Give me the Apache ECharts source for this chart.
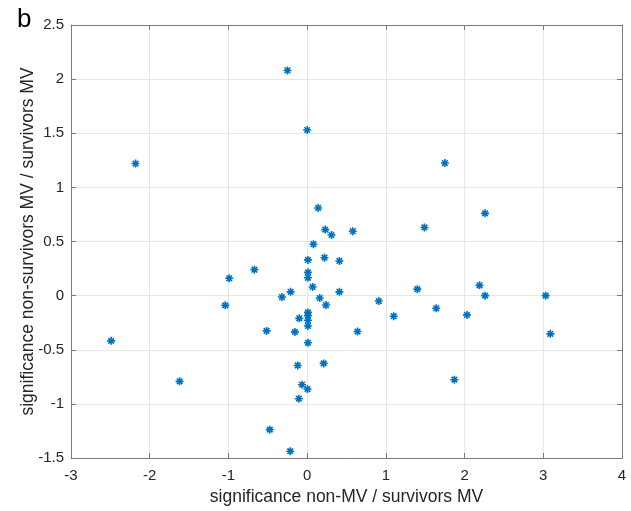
<!DOCTYPE html>
<html>
<head>
<meta charset="utf-8">
<style>
  html, body { margin: 0; padding: 0; background: #fff; }
  #main { width: 631px; height: 511px; }
</style>
<script src="https://cdn.jsdelivr.net/npm/echarts@6/dist/echarts.min.js"></script>
</head>
<body>
<div id="main"></div>
<script>
// significance non-MV / survivors MV
var xVals = [-0.25, 0.00, -2.18, 1.75, 0.14, 2.26, 1.49, 0.23, 0.58, 0.31,
             0.08, 0.22, 0.01, 0.41, -0.67, 0.01, 0.01, -0.99, 2.19, 0.07,
             1.40, -0.21, 0.41, 2.26, 3.03, -0.32, 0.16, 0.91, 0.24, -1.04,
             1.64, 0.01, 2.03, 0.01, 1.10, -0.10, 0.01, 0.01, -0.515, -0.155,
             0.64, 3.09, -2.49, 0.01, 0.21, -0.12, 1.87, -1.62, -0.065, 0.005,
             -0.105, -0.475, -0.215];
// significance non-survivors MV / survivors MV
var yVals = [2.08, 1.53, 1.22, 1.225, 0.81, 0.76, 0.63, 0.61, 0.595, 0.56,
             0.475, 0.35, 0.33, 0.32, 0.24, 0.215, 0.165, 0.16, 0.095, 0.08,
             0.06, 0.035, 0.035, 0.0, 0.0, -0.013, -0.022, -0.05, -0.087, -0.09,
             -0.117, -0.155, -0.178, -0.185, -0.19, -0.21, -0.227, -0.28, -0.326, -0.335,
             -0.332, -0.353, -0.418, -0.436, -0.626, -0.645, -0.777, -0.792, -0.823, -0.863,
             -0.952, -1.238, -1.437];

var pts = [];
for (var i = 0; i < xVals.length; i++) {
	pts.push([xVals[i], yVals[i]]);
}

var font = 'Liberation Sans, Arial, Helvetica, sans-serif';
var axisCol = '#7a7a7a';
var chart = echarts.init(document.getElementById('main'));
var option = {
	animation: false,
	textStyle: { fontFamily: font },
	title: {
		text: 'b',
		left: 12, top: 2,
		textStyle: { fontSize: 26, fontWeight: 'normal', color: '#000', fontFamily: font }
	},
	grid: { left: 71, right: 9, top: 25, bottom: 52 },
	xAxis: [{
		type: 'value', min: -3, max: 4, interval: 1,
		name: 'significance non-MV / survivors MV',
		nameLocation: 'middle', nameGap: 30, nameMoveOverlap: false,
		nameTextStyle: { fontSize: 17.5, color: '#262626' },
		axisLine: { show: true, onZero: false, lineStyle: { color: axisCol, width: 1 } },
		axisTick: { show: true, inside: true, length: 5, lineStyle: { color: axisCol } },
		axisLabel: { fontSize: 15, color: '#262626', margin: 10 },
		splitLine: { show: true, lineStyle: { color: '#e6e6e6', width: 1 } }
	}, {
		type: 'value', min: -3, max: 4, interval: 1, position: 'top',
		axisLine: { show: true, onZero: false, lineStyle: { color: axisCol, width: 1 } },
		axisTick: { show: true, inside: true, length: 5, lineStyle: { color: axisCol } },
		axisLabel: { show: false },
		splitLine: { show: false }
	}],
	yAxis: [{
		type: 'value', min: -1.5, max: 2.5, interval: 0.5,
		name: 'significance non-survivors MV / survivors MV',
		nameLocation: 'middle', nameGap: 34, nameMoveOverlap: false,
		nameTextStyle: { fontSize: 17.5, color: '#262626' },
		axisLine: { show: true, onZero: false, lineStyle: { color: axisCol, width: 1 } },
		axisTick: { show: true, inside: true, length: 5, lineStyle: { color: axisCol } },
		axisLabel: { fontSize: 15, color: '#262626', margin: 7 },
		splitLine: { show: true, lineStyle: { color: '#e6e6e6', width: 1 } }
	}, {
		type: 'value', min: -1.5, max: 2.5, interval: 0.5, position: 'right',
		axisLine: { show: true, onZero: false, lineStyle: { color: axisCol, width: 1 } },
		axisTick: { show: true, inside: true, length: 5, lineStyle: { color: axisCol } },
		axisLabel: { show: false },
		splitLine: { show: false }
	}],
	series: [{
		type: 'scatter',
		xAxisIndex: 0, yAxisIndex: 0,
		data: pts,
		symbol: 'path://M0,-1L0,1M-1,0L1,0M-0.7,-0.7L0.7,0.7M-0.7,0.7L0.7,-0.7',
		symbolSize: 8,
		itemStyle: { color: '#0072BD', borderColor: '#0072BD', borderWidth: 1.6, opacity: 1 }
	}]
};
chart.setOption(option);
</script>
</body>
</html>
